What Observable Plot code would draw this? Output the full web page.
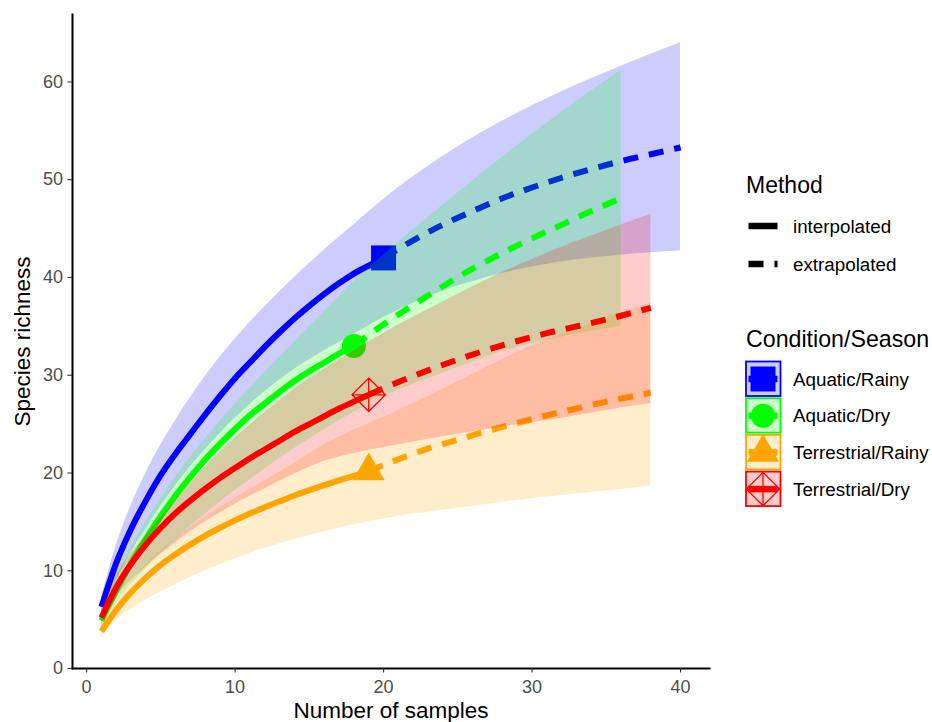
<!DOCTYPE html>
<html><head><meta charset="utf-8">
<script src="https://cdn.jsdelivr.net/npm/d3@7"></script>
<script src="https://cdn.jsdelivr.net/npm/@observablehq/plot@0.6"></script>
<style>
body{margin:0;background:#fff;font-family:"Liberation Sans",Arial,sans-serif;}
#wrap{position:relative;width:932px;height:722px;overflow:hidden;}
</style></head><body><div id="wrap"></div>
<script>
// ---------- data ----------
const groups = ["Aquatic/Rainy", "Aquatic/Dry", "Terrestrial/Rainy", "Terrestrial/Dry"];
const groupColors = ["#0000FF", "#00FF00", "#FFA500", "#FF0000"];
const methods = ["interpolated", "extrapolated"];
const xTicks = [0, 10, 20, 30, 40];
const yTicks = [0, 10, 20, 30, 40, 50, 60];

// observed (reference) samples and richness
const obsX = [20, 18, 19, 19];
const obsY = [42.0, 33.0, 20.2, 28.0];

// Aquatic/Rainy
const arInterpX = [1,2,3,4,5,6,7,8,9,10,11,12,13,14,15,16,17,18,19,20];
const arInterpY = [6.3,10.8,14.3,17.2,19.8,22.0,24.0,26.0,27.9,29.7,31.3,32.9,34.4,35.8,37.1,38.3,39.4,40.4,41.2,42.0];
const arExtrapX = [20,22,24,26,28,30,32,34,36,38,40];
const arExtrapY = [42.0,43.8,45.4,46.8,48.1,49.2,50.2,51.1,51.9,52.6,53.3];
const arRibX = [1,2,4,6,8,10,12,14,16,18,20,24,28,32,36,40];
const arRibLo = [5.4,9.0,14.3,18.7,22.4,25.6,28.3,30.6,32.5,34.2,35.9,38.6,40.4,41.6,42.3,42.7];
const arRibHi = [7.3,12.6,20.0,25.4,29.9,33.7,37.0,40.0,42.8,45.4,48.0,52.4,56.0,59.0,61.6,64.0];

// Aquatic/Dry
const adInterpX = [1,2,3,4,5,6,7,8,9,10,11,12,13,14,15,16,17,18];
const adInterpY = [4.9,8.0,10.8,13.3,15.6,17.7,19.6,21.4,23.0,24.5,25.9,27.1,28.3,29.4,30.4,31.3,32.2,33.0];
const adExtrapX = [18,20,22,24,26,28,30,32,34,36];
const adExtrapY = [33.0,35.2,37.2,39.1,40.9,42.5,44.0,45.4,46.8,48.1];
const adRibX = [1,2,4,6,8,10,12,14,16,18,20,24,28,32,36];
const adRibLo = [4.2,6.7,10.2,13.2,15.8,18.2,20.4,22.5,24.4,26.2,27.8,30.2,32.4,33.9,35.0];
const adRibHi = [5.6,9.5,15.0,19.6,23.5,27.0,30.3,33.4,36.5,39.6,42.3,47.4,52.3,56.9,61.2];

// Terrestrial/Rainy
const trInterpX = [1,2,3,4,5,6,7,8,9,10,11,12,13,14,15,16,17,18,19];
const trInterpY = [3.8,6.0,7.8,9.3,10.6,11.7,12.7,13.6,14.4,15.15,15.85,16.5,17.1,17.7,18.25,18.75,19.25,19.7,20.2];
const trExtrapX = [19,21,23,25,27,29,31,33,35,38];
const trExtrapY = [20.2,21.4,22.5,23.4,24.3,25.1,25.9,26.6,27.3,28.2];
const trRibX = [1,2,4,6,8,10,12,14,16,18,20,22,24,26,28,30,32,34,36,38];
const trRibLo = [3.2,4.9,7.0,8.6,10.0,11.2,12.3,13.2,14.0,14.7,15.3,15.8,16.2,16.6,17.0,17.4,17.7,18.0,18.3,18.7];
const trRibHi = [4.5,7.0,10.6,13.3,15.5,17.4,19.2,21.0,22.9,24.4,25.7,27.1,28.6,30.1,31.6,33.0,34.2,35.3,36.4,37.4];

// Terrestrial/Dry
const tdInterpX = [1,2,3,4,5,6,7,8,9,10,11,12,13,14,15,16,17,18,19];
const tdInterpY = [5.2,8.3,10.7,12.7,14.4,15.9,17.2,18.4,19.5,20.5,21.5,22.4,23.3,24.2,25.0,25.8,26.6,27.3,28.0];
const tdExtrapX = [19,21,23,25,27,29,31,33,35,38];
const tdExtrapY = [28.0,29.3,30.5,31.6,32.6,33.5,34.3,35.0,35.7,36.9];
const tdRibX = [1,2,4,6,8,10,12,14,16,18,20,24,28,32,35,38];
const tdRibLo = [4.4,7.1,10.4,12.9,15.0,16.8,18.4,19.9,21.2,22.0,22.6,23.7,24.7,25.6,26.4,27.1];
const tdRibHi = [6.1,9.4,13.6,17.2,20.6,23.6,26.2,28.6,30.6,32.5,34.3,37.5,40.5,43.1,44.8,46.5];

// ---------- tidy tables ----------
const series = [
  {g: groups[0], ix: arInterpX, iy: arInterpY, ex: arExtrapX, ey: arExtrapY, rx: arRibX, lo: arRibLo, hi: arRibHi},
  {g: groups[1], ix: adInterpX, iy: adInterpY, ex: adExtrapX, ey: adExtrapY, rx: adRibX, lo: adRibLo, hi: adRibHi},
  {g: groups[2], ix: trInterpX, iy: trInterpY, ex: trExtrapX, ey: trExtrapY, rx: trRibX, lo: trRibLo, hi: trRibHi},
  {g: groups[3], ix: tdInterpX, iy: tdInterpY, ex: tdExtrapX, ey: tdExtrapY, rx: tdRibX, lo: tdRibLo, hi: tdRibHi}
];
const interpRows = series.flatMap(s => s.ix.map((x, i) => ({group: s.g, x, y: s.iy[i]})));
const extrapRows = series.flatMap(s => s.ex.map((x, i) => ({group: s.g, x, y: s.ey[i]})));
const ribbonRows = series.flatMap(s => s.rx.map((x, i) => ({group: s.g, x, lo: s.lo[i], hi: s.hi[i]})));
const obsRows = groups.map((g, i) => ({group: g, x: obsX[i], y: obsY[i]}));

// custom symbol: diamond with a plus (ggplot shape 9)
const diamondPlus = {
  draw(ctx, size) {
    const r = Math.sqrt(size / Math.PI);
    ctx.moveTo(0, -r); ctx.lineTo(r, 0); ctx.lineTo(0, r); ctx.lineTo(-r, 0); ctx.closePath();
    ctx.moveTo(-r, 0); ctx.lineTo(r, 0);
    ctx.moveTo(0, -r); ctx.lineTo(0, r);
  }
};
const symbolSpecs = [
  {type: "square", r: 14.1, filled: true},
  {type: "circle", r: 12, filled: true},
  {type: "triangle", r: 11.9, filled: true},
  {type: diamondPlus, r: 16.7, filled: false}
];
const d3Types = [d3.symbolSquare, d3.symbolCircle, d3.symbolTriangle, diamondPlus];

const font = "'Liberation Sans', Arial, sans-serif";
const LW = 6;
const dash = "15,11";

// one layer stack per group: ribbon, lines, point (later groups overlay earlier ones)
const groupMarks = groups.flatMap((g, i) => {
  const s = symbolSpecs[i];
  const only = d => d.group === g;
  return [
    Plot.areaY(ribbonRows.filter(only), {x: "x", y1: "lo", y2: "hi", fill: "group", fillOpacity: 0.2, curve: "monotone-x"}),
    Plot.line(interpRows.filter(only), {x: "x", y: "y", stroke: "group", strokeWidth: LW, strokeLinecap: "butt", strokeLinejoin: "round", curve: "monotone-x"}),
    Plot.line(extrapRows.filter(only), {x: "x", y: "y", stroke: "group", strokeWidth: LW, strokeLinecap: "butt", strokeLinejoin: "round", strokeDasharray: dash, curve: "monotone-x"}),
    Plot.dot(obsRows.filter(only), {
      x: "x", y: "y", symbol: s.type, r: s.r,
      fill: s.filled ? "group" : "none",
      stroke: s.filled ? null : "group",
      strokeWidth: s.filled ? 0 : 1.3
    })
  ];
});

const chart = Plot.plot({
  width: 932,
  height: 722,
  marginLeft: 72,
  marginRight: 223,
  marginTop: 14,
  marginBottom: 54,
  style: {fontFamily: font, background: "white", overflow: "visible"},
  x: {domain: [-0.95, 41.95]},
  y: {domain: [0, 66.9]},
  color: {domain: groups, range: groupColors},
  marks: [
    ...groupMarks,
    Plot.frame({anchor: "left", stroke: "black", strokeWidth: 2}),
    Plot.frame({anchor: "bottom", stroke: "black", strokeWidth: 2}),
    Plot.axisX({ticks: xTicks, tickSize: 4.5, tickPadding: 7, fontSize: 18, stroke: "#333333", fill: "#4D4D4D", strokeWidth: 1.1, label: null}),
    Plot.axisY({ticks: yTicks, tickSize: 4.5, tickPadding: 5, fontSize: 18, stroke: "#333333", fill: "#4D4D4D", strokeWidth: 1.1, label: null}),
    Plot.text(["Number of samples"], {text: d => d, frameAnchor: "bottom", dy: 49, lineAnchor: "bottom", textAnchor: "middle", fontSize: 22.5, fill: "black"}),
    Plot.text(["Species richness"], {text: d => d, frameAnchor: "left", dx: -43, rotate: -90, lineAnchor: "bottom", textAnchor: "middle", fontSize: 22.5, fill: "black"})
  ]
});
document.getElementById("wrap").appendChild(chart);

// ---------- legend ----------
const leg = d3.select("#wrap").append("svg")
  .attr("width", 932).attr("height", 722)
  .style("position", "absolute").style("left", "0px").style("top", "0px")
  .style("font-family", font);

leg.append("text").attr("x", 746).attr("y", 193).attr("font-size", 23).text("Method");
const methodY = [226, 264];
methods.forEach((m, i) => {
  leg.append("line").attr("x1", 748.5).attr("x2", 777.5).attr("y1", methodY[i]).attr("y2", methodY[i])
    .attr("stroke", "black").attr("stroke-width", 6.5)
    .attr("stroke-dasharray", i === 1 ? dash : null);
  leg.append("text").attr("x", 793).attr("y", methodY[i] + 6.7).attr("font-size", 18.8).text(m);
});

leg.append("text").attr("x", 746).attr("y", 347).attr("font-size", 23.2).text("Condition/Season");
groups.forEach((g, i) => {
  const top = 361 + i * 36.7, cx = 763, cy = top + 18;
  const col = groupColors[i];
  leg.append("line").attr("x1", 748.5).attr("x2", 777.5).attr("y1", cy).attr("y2", cy)
    .attr("stroke", col).attr("stroke-width", 6.5);
  const s = symbolSpecs[i];
  leg.append("path")
    .attr("transform", `translate(${cx},${cy})`)
    .attr("d", d3.symbol(d3Types[i], Math.PI * s.r * s.r)())
    .attr("fill", s.filled ? col : "none")
    .attr("stroke", s.filled ? "none" : col)
    .attr("stroke-width", 1.3);
  leg.append("rect").attr("x", 746).attr("y", top + 0.5).attr("width", 34.5).attr("height", 34.5)
    .attr("fill", col).attr("fill-opacity", 0.2).attr("stroke", col).attr("stroke-width", 1.8);
  leg.append("text").attr("x", 793).attr("y", cy + 6.7).attr("font-size", 18.8).text(g);
});
</script>
</body></html>
